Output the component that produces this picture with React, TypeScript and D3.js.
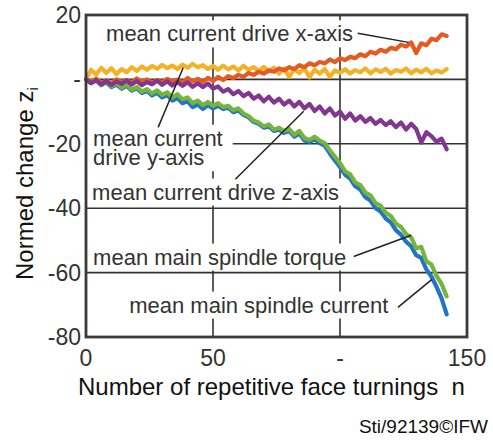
import React, { useEffect, useRef } from "react";
import * as d3 from "d3";

// n sampled every 2 turnings
const N = d3.range(0, 143, 2);

const Y_AXIS = [
  0, 3, 1.5, 3.6, 2, 3.5, 1.6, 3.2, 2.2, 3.8,
  2.6, 4, 3, 4.2, 3.3, 4.5, 3.5, 4.3, 3.2, 4.6,
  3.6, 4.8, 3.8, 4.4, 3.2, 4.2, 3, 4.3, 3.1, 4,
  2.8, 4.2, 3, 3.8, 2.6, 3.9, 2.5, 3.6, 1.8, 3.4,
  0.8, 3.2, 2, 3.5, 0.6, 3, 1.8, 3.2, 0.8, 2.8,
  2, 3.2, 1.8, 2.9, 2.2, 3.4, 1.9, 3.1, 2.3, 3.3,
  1.8, 2.9, 2.4, 3.4, 1.9, 3.0, 2.2, 3.3, 1.9, 2.8,
  2.1, 3.2,
];

const X_AXIS = [
  0, -0.8, 0.2, -1, -0.3, -1.2, 0, -0.8, -0.2, -1,
  0.3, -0.7, 0, -1, -0.2, -0.9, 0.2, -0.6, -0.1, -1,
  0.4, -0.6, 0.2, -0.8, 0.5, -0.5, 0.8, -0.2, 1, 0.4,
  1.4, 0.8, 2, 1.4, 2.4, 1.8, 2.8, 2.4, 3.4, 2.8,
  3.8, 3.2, 4.4, 3.8, 5, 4.4, 5.4, 5, 6.2, 5.4,
  6.6, 6, 7, 6.6, 7.8, 7.2, 8.6, 8, 9.2, 8.6,
  9.8, 9.4, 10.8, 10.2, 11.5, 8.2, 11.2, 10.6, 12.6, 12.2,
  14, 13.5,
];

const Z_AXIS = [
  0, -1.2, -0.3, -1.5, -0.5, -1.8, -0.6, -1.4, -0.3, -1.6,
  -0.5, -1.8, -0.8, -1.5, -0.4, -1.7, -0.6, -1.9, -0.8, -2.0,
  -0.9, -2.3, -1.2, -2.4, -1.3, -2.8, -2.2, -3.8, -3.0, -4.6,
  -3.6, -5.2, -4.2, -6.0, -5.0, -6.8, -5.4, -7.2, -6.0, -7.8,
  -6.6, -8.4, -7.0, -9.0, -7.6, -9.8, -8.4, -10.6, -9.0, -11.2,
  -10.0, -12.2, -10.6, -12.8, -11.4, -13.2, -12.0, -13.8, -12.6, -14.2,
  -13.0, -14.8, -13.4, -15.6, -13.8, -15.4, -19.6, -16.4, -17.6, -19.4,
  -18.4, -21.7,
];

const TORQUE = [
  0, -0.8, 0.2, -1.6, -0.6, -2.2, -1.2, -2.6, -1.6, -3.2,
  -2.4, -3.8, -3.0, -4.4, -3.4, -4.8, -4.0, -5.6, -4.6, -6.2,
  -5.6, -7.4, -6.6, -8.0, -7.0, -8.2, -7.4, -8.6, -8.2, -9.6,
  -9.0, -10.6, -11.4, -12.8, -13.4, -14.6, -14.0, -15.6, -15.0, -16.0,
  -15.4, -17.2, -16.0, -18.2, -18.8, -17.8, -19.0, -19.8, -22.0, -24.0,
  -26.0, -28.5, -29.5, -32.0, -32.8, -35.2, -36.0, -38.4, -39.2, -41.4,
  -42.4, -44.8, -45.8, -48.0, -49.0, -52.5, -52.0, -56.5, -57.5, -61.0,
  -63.5, -67.4,
];

const CURRENT = [
  0, -1.0, -0.2, -1.8, -0.9, -2.4, -1.6, -2.9, -2.0, -3.5,
  -2.8, -4.2, -3.6, -5.0, -4.2, -5.6, -4.9, -6.6, -5.8, -7.4,
  -6.8, -8.6, -7.8, -9.2, -8.0, -9.0, -8.2, -9.2, -8.8, -10.2,
  -9.6, -11.0, -11.8, -13.2, -13.8, -15.0, -14.6, -16.0, -15.6, -16.6,
  -16.0, -17.8, -16.8, -19.0, -19.4, -18.6, -19.8, -20.6, -23.0, -25.2,
  -27.2, -29.6, -30.8, -33.2, -34.2, -36.6, -37.6, -40.0, -41.0, -43.2,
  -44.4, -46.8, -48.2, -50.4, -51.8, -54.6, -55.4, -59.0, -61.2, -64.4,
  -68.0, -73.0,
];

const Y_TICKS = [20, 0, -20, -40, -60, -80];
const Y_TICK_LABELS = ["20", "-", "-20", "-40", "-60", "-80"];
const X_TICKS = [0, 50, 100, 150];
const X_TICK_LABELS = ["0", "50", "-", "150"];
const H_GRID = [0, -20, -40, -60];
const V_GRID = [50, 100];

const SERIES = [
  { key: "current", values: CURRENT, color: "#2474C6" },
  { key: "torque", values: TORQUE, color: "#74B53C" },
  { key: "y", values: Y_AXIS, color: "#F4B125" },
  { key: "x", values: X_AXIS, color: "#E65A1F" },
  { key: "z", values: Z_AXIS, color: "#813690" },
];

// annotation text anchors and leader lines, in data units (n, z)
const NOTES = [
  { lines: ["mean current drive x-axis"], at: [7.9, 11.8], pad: 4, leader: [[107, 14.3], [127, 11.5]] },
  { lines: ["mean current", "drive y-axis"], at: [2.8, -20.6], pad: 10, leader: [[28.4, -14.9], [38.3, 3.7]] },
  { lines: ["mean current drive z-axis"], at: [2.4, -37.3], pad: 4, leader: [[58.8, -31], [85.7, -9.9]] },
  { lines: ["mean main spindle torque"], at: [2.8, -57.5], pad: 4, leader: [[105.4, -55], [128, -48.4]] },
  { lines: ["mean main spindle current"], at: [17, -72.4], pad: 4, leader: [[122.8, -70.8], [136.2, -62.1]] },
];

const FONT = "'Liberation Sans', Arial, sans-serif";
const INK = "#333";

function renderChart(svgEl: SVGSVGElement) {
  const svg = d3.select(svgEl);
  svg.selectAll("*").remove();

  const x = d3.scaleLinear().domain([0, 150]).range([86, 467]);
  const y = d3.scaleLinear().domain([-80, 20]).range([337, 15]);

  svg.append("rect").attr("width", 493).attr("height", 441).attr("fill", "#fff");

  const g = svg.append("g");

  // Grid
  g.append("g").selectAll("line").data(H_GRID).join("line")
    .attr("x1", x(0)).attr("x2", x(150))
    .attr("y1", d => y(d)).attr("y2", d => y(d))
    .attr("stroke", INK).attr("stroke-width", 1.6);

  g.append("g").selectAll("line").data(V_GRID).join("line")
    .attr("x1", d => x(d)).attr("x2", d => x(d))
    .attr("y1", y(20)).attr("y2", y(-80))
    .attr("stroke", INK).attr("stroke-width", 1.6);

  // Series
  const line = d3.line<number>()
    .x((_, i) => x(N[i]))
    .y(d => y(d));

  SERIES.forEach(s => {
    g.append("path")
      .datum(s.values)
      .attr("d", line)
      .attr("fill", "none")
      .attr("stroke", s.color)
      .attr("stroke-width", 4.2)
      .attr("stroke-linejoin", "round")
      .attr("stroke-linecap", "round");
  });

  // Annotations
  NOTES.forEach(nt => {
    const grp = g.append("g");
    const bg = grp.append("rect").attr("fill", "#fff");
    const txt = grp.append("text")
      .attr("font-family", FONT).attr("font-size", 22).attr("fill", INK);
    nt.lines.forEach((l, i) => {
      txt.append("tspan")
        .attr("x", x(nt.at[0]))
        .attr("y", y(nt.at[1]) + i * 19.5)
        .text(l);
    });
    const bb = (txt.node() as SVGTextElement).getBBox();
    bg.attr("x", bb.x - nt.pad).attr("y", bb.y - 1)
      .attr("width", bb.width + nt.pad * 2).attr("height", bb.height + 2);
  });

  g.append("g").selectAll("line").data(NOTES).join("line")
    .attr("x1", d => x(d.leader[0][0])).attr("y1", d => y(d.leader[0][1]))
    .attr("x2", d => x(d.leader[1][0])).attr("y2", d => y(d.leader[1][1]))
    .attr("stroke", "#222").attr("stroke-width", 1.5);

  // Frame
  g.append("rect")
    .attr("x", x(0)).attr("y", y(20))
    .attr("width", x(150) - x(0)).attr("height", y(-80) - y(20))
    .attr("fill", "none").attr("stroke", "#3a3a3a").attr("stroke-width", 2.8);

  // Tick labels
  g.append("g").selectAll("text").data(Y_TICKS).join("text")
    .attr("x", x(0) - 5).attr("y", d => y(d) + 8)
    .attr("text-anchor", "end")
    .attr("font-family", FONT).attr("font-size", 23).attr("fill", INK)
    .text((_, i) => Y_TICK_LABELS[i]);

  g.append("g").selectAll("text").data(X_TICKS).join("text")
    .attr("x", d => x(d)).attr("y", 366)
    .attr("text-anchor", "middle")
    .attr("font-family", FONT).attr("font-size", 23).attr("fill", INK)
    .text((_, i) => X_TICK_LABELS[i]);

  // Axis titles
  g.append("text")
    .attr("x", 78).attr("y", 395)
    .attr("font-family", FONT).attr("font-size", 24).attr("fill", "#111")
    .attr("xml:space", "preserve")
    .text("Number of repetitive face turnings  n");

  const yt = g.append("text")
    .attr("transform", "translate(33,280) rotate(-90)")
    .attr("font-family", FONT).attr("font-size", 24).attr("fill", "#111");
  yt.append("tspan").text("Normed change z");
  yt.append("tspan").attr("font-size", 15).attr("dy", 5).text("i");

  // Source note
  g.append("text")
    .attr("x", 488).attr("y", 433).attr("text-anchor", "end")
    .attr("font-family", FONT).attr("font-size", 19).attr("fill", "#111")
    .text("Sti/92139©IFW");
}

export default function App() {
  const svgRef = useRef<SVGSVGElement>(null);

  useEffect(() => {
    if (svgRef.current) renderChart(svgRef.current);
  }, []);

  return (
    <svg
      ref={svgRef}
      width={493}
      height={441}
      style={{ position: "absolute", left: 0, top: 0, display: "block" }}
    />
  );
}
